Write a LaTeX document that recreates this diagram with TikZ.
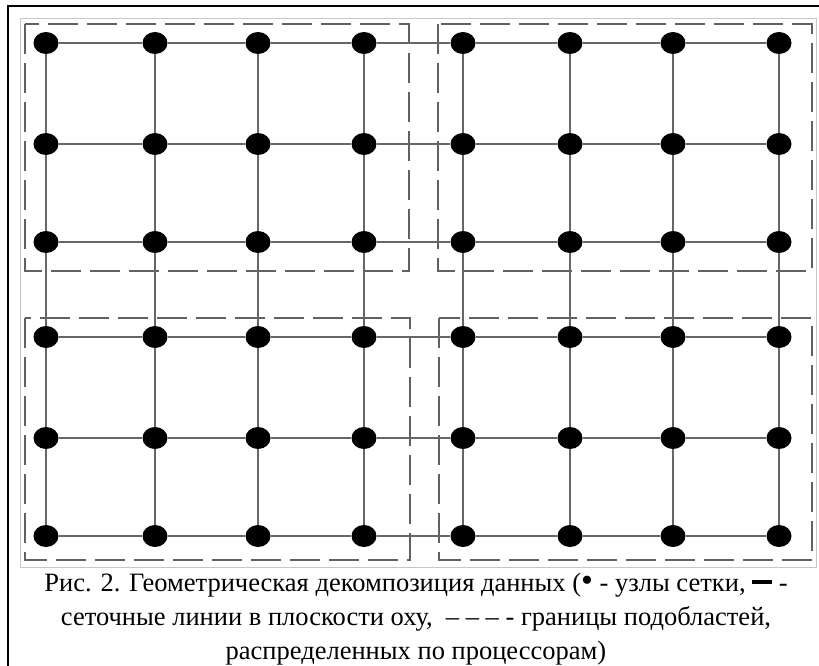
\documentclass[tikz,border=0pt]{standalone}
\usepackage{fontspec}
\setmainfont{Liberation Serif}
\usetikzlibrary{shapes.geometric}
\begin{document}
\begin{tikzpicture}[x=1pt,y=-1pt,
  dot/.style={ellipse,fill=black,minimum width=25pt,minimum height=22pt,inner sep=0pt},
  gridline/.style={draw=black!60,line width=1.6pt},
  part/.style={draw=black!62,line width=2pt,dash pattern=on 30pt off 9pt},
  captext/.style={font=\fontsize{26.5}{33}\selectfont,anchor=base,inner sep=0pt}]
\useasboundingbox (0,0) rectangle (819,666);
\fill[white] (0,0) rectangle (819,666);
% outer frame and image border
\draw[line width=1.5pt] (8,667) -- (8,6) -- (820,6);
\draw[black!22,line width=1pt] (20,19) rectangle (816,567);
% subdomain boundaries
\draw[part] (25,24) rectangle (409,271);
\draw[part] (438,24) rectangle (812,271);
\draw[part] (25,318) rectangle (410,560);
\draw[part] (439,318) rectangle (812,560);
% grid nodes
\foreach \x [count=\j] in {46,155,258,364,463,570,673,779}{
  \foreach \y [count=\i] in {43,144,242,337,438,536}{
    \node[dot] (d-\i-\j) at (\x,\y) {};
  }
}
% grid lines
\foreach \i in {1,...,6}{
  \foreach \j [evaluate=\j as \k using int(\j+1)] in {1,...,7}{
    \draw[gridline] (d-\i-\j) -- (d-\i-\k);
  }
}
\foreach \j in {1,...,8}{
  \foreach \i [evaluate=\i as \k using int(\i+1)] in {1,...,5}{
    \draw[gridline] (d-\i-\j) -- (d-\k-\j);
  }
}
% caption
\node[captext] (c1) at (416,591) {Рис. 2. Геометрическая декомпозиция данных ({\fontsize{34}{33}\selectfont •} - узлы сетки, \rule[0.25em]{0.75em}{0.18em} -};
\node[captext] (c2) at (416,625) {сеточные линии в плоскости оху,\ \ – – – - границы подобластей,};
\node[captext] (c3) at (416,659) {распределенных по процессорам)};
\end{tikzpicture}
\end{document}
